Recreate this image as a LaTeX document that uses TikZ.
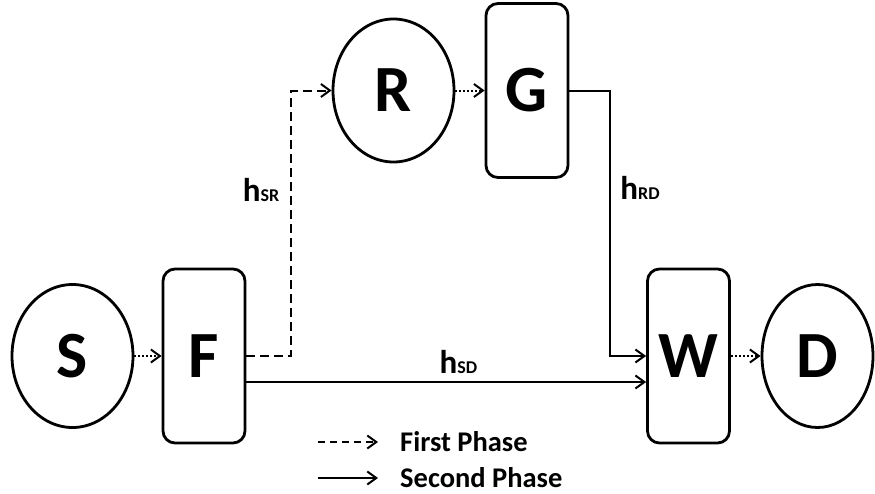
\documentclass[tikz,border=0pt]{standalone}
\usepackage{fontspec}
\setmainfont{Carlito}
\usepackage{tikz}
\usetikzlibrary{positioning, arrows.meta, shapes.geometric, calc}

\newcommand{\chan}[1]{\bfseries{\fontsize{33}{33}\selectfont h}{\fontsize{18}{18}\selectfont #1}}

\begin{document}
\begin{tikzpicture}[
  x=1pt, y=-1pt,
  tip/.style={-{Straight Barb[length=9pt,width=13pt]}},
  user/.style={draw, ellipse, line width=2.8pt, inner sep=0pt, minimum width=121pt, minimum height=143pt, font=\fontsize{66}{66}\selectfont\bfseries},
  block/.style={draw, rounded corners=12pt, line width=2.8pt, inner sep=0pt, minimum width=82pt, minimum height=174pt, font=\fontsize{66}{66}\selectfont\bfseries},
  link/.style={tip, line width=2pt, dotted},
  phaseone/.style={tip, line width=2pt, dash pattern=on 9pt off 5pt},
  phasetwo/.style={tip, line width=2pt},
  legend/.style={anchor=west, inner sep=0pt, font=\fontsize{28.5}{28.5}\selectfont\bfseries}
]
    \useasboundingbox (0,0) rectangle (875,493);

    \node[user] (S) at (72.5, 356) {S};
    \node[block] (F) at (204, 356) {F};
    \node[user] (R) at (393.5, 90.5) {R};
    \node[block] (G) at (527, 90.5) {G};
    \node[block] (W) at (688.5, 356) {W};
    \node[user, minimum width=111pt] (D) at (817.5, 356) {D};

    \draw[link] (S) -- (F);
    \draw[link] (R) -- (G);
    \draw[link] (W) -- (D);

    \draw[phaseone] (F.east) -- ++(45,0) |- (R.west);
    \draw[phasetwo] (G.east) -- ++(41,0) |- (W.west);
    \draw[phasetwo] ([yshift=-26pt]F.east) -- ([yshift=-26pt]W.west);

    \node[anchor=base, inner sep=0pt] (hsr) at (261, 201) {\chan{SR}};
    \node[anchor=base, inner sep=0pt] (hrd) at (640, 199) {\chan{RD}};
    \node[anchor=base, inner sep=0pt] (hsd) at (458.5, 373) {\chan{SD}};

    \coordinate (lga) at (318, 442);
    \coordinate (lgb) at (378, 442);
    \coordinate (lgc) at (318, 478);
    \coordinate (lgd) at (378, 478);
    \draw[phaseone, dash pattern=on 7pt off 5pt] (lga) -- (lgb);
    \draw[phasetwo] (lgc) -- (lgd);
    \node[legend] (first) at (400, 442) {First Phase};
    \node[legend] (second) at (400, 478) {Second Phase};
\end{tikzpicture}
\end{document}
